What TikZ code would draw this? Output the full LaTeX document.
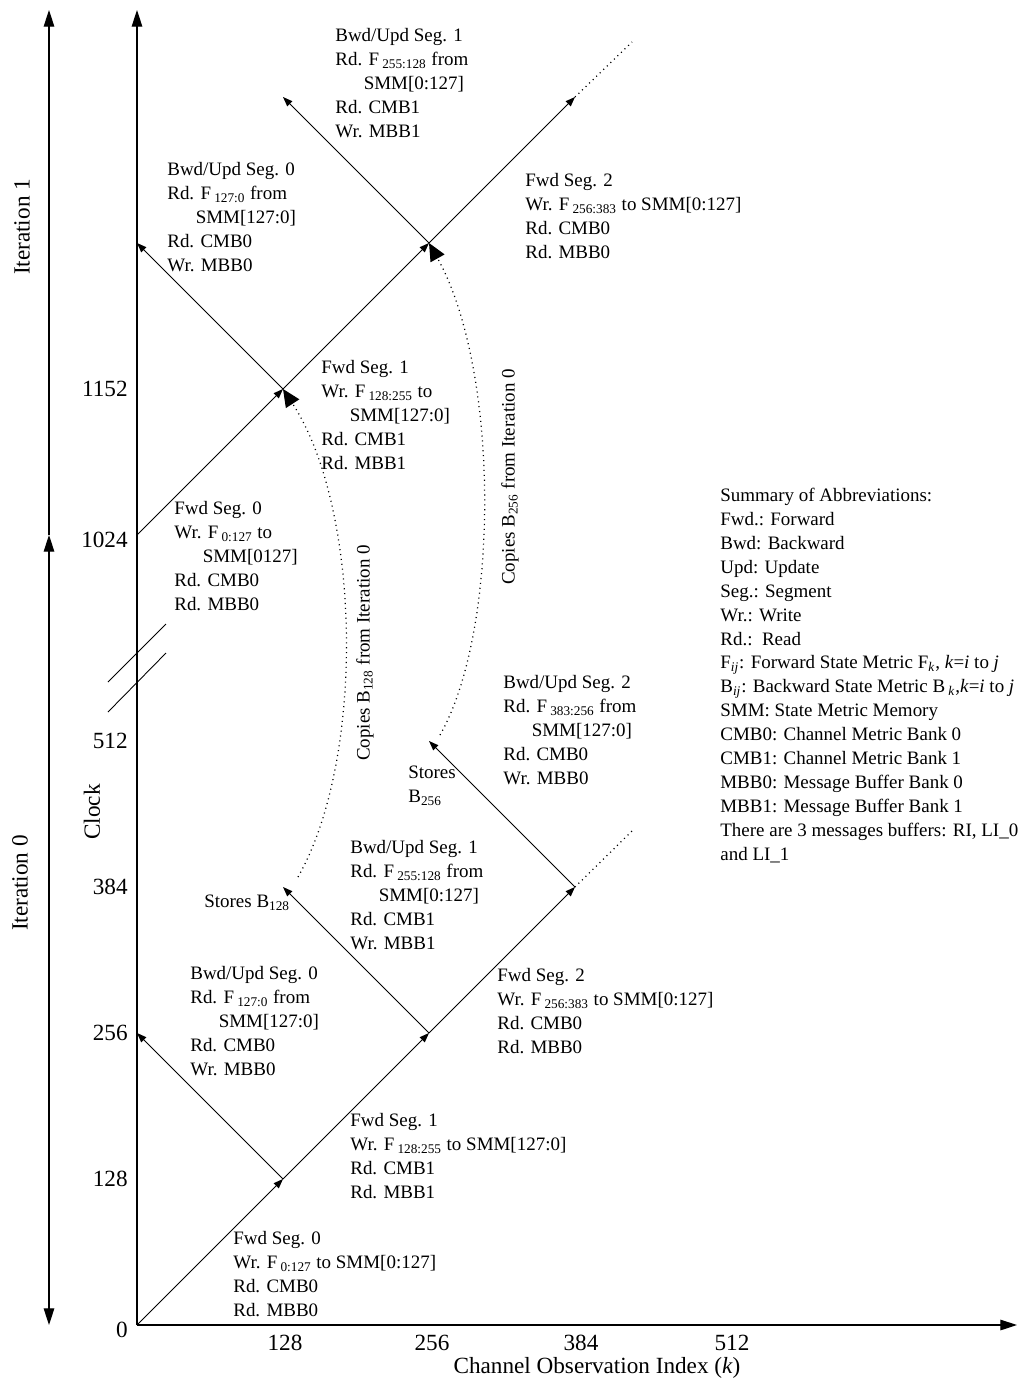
\documentclass[tikz,border=0pt]{standalone}
\usepackage{fontspec}
\setmainfont{Liberation Serif}
\usetikzlibrary{arrows.meta}
\newcommand{\fsub}[1]{\,\textsubscript{#1}}
\newcommand{\ind}{\hspace*{1.5em}}

\begin{document}
\begin{tikzpicture}[x=0.02cm, y=-0.02cm, >={Triangle[length=9.5pt,width=6pt]},
    font=\fontsize{10.8}{13.6}\selectfont,
    axisline/.style={line width=0.7pt},
    segline/.style={line width=0.5pt, -{Triangle[length=5.5pt,width=4pt]}},
    dotline/.style={line width=0.7pt, dash pattern=on 0.6pt off 2.2pt},
    copyline/.style={dotline, -{Triangle[length=10pt,width=9pt]}},
    txt/.style={anchor=north west, inner sep=0pt, align=left},
    lbl/.style={inner sep=0pt},
    axlbl/.style={inner sep=0pt, font=\fontsize{13.2}{15}\selectfont}]
    \useasboundingbox (0,0) rectangle (1022,1382);

    % 坐标点
    \coordinate (o) at (137,1325);
    \coordinate (ytop) at (137,10);
    \coordinate (xend) at (1017,1325);
    \coordinate (p1) at (283,1179);
    \coordinate (p2) at (429,1033);
    \coordinate (p3) at (575,887);
    \coordinate (p4) at (633,830);
    \coordinate (r1) at (137,1033);
    \coordinate (r2) at (283,887);
    \coordinate (r3) at (429,741);
    \coordinate (q0) at (137,535);
    \coordinate (q1) at (283,389);
    \coordinate (q2) at (429,243);
    \coordinate (q3) at (575,97);
    \coordinate (q4) at (632,42);
    \coordinate (s1) at (137,243);
    \coordinate (s2) at (283,97);
    \coordinate (c1) at (298,877);
    \coordinate (c2) at (440,735);
    \coordinate (itop) at (49,10);
    \coordinate (imid) at (49,535);
    \coordinate (ibot) at (49,1325);

    % 坐标轴
    \draw[axisline, ->] (o) -- (ytop);
    \draw[axisline, ->] (o) -- (xend);
    \draw[axisline, ->] (imid) -- (itop);
    \draw[axisline, <->] (ibot) -- (imid);
    \draw[line width=0.5pt] (108,682) -- (166,624);
    \draw[line width=0.5pt] (108,712) -- (166,653);

    % 刻度
    \node[axlbl, anchor=east] (y0) at (128,1330) {0};
    \node[axlbl, anchor=east] (y128) at (128,1179) {128};
    \node[axlbl, anchor=east] (y256) at (128,1033) {256};
    \node[axlbl, anchor=east] (y384) at (128,887) {384};
    \node[axlbl, anchor=east] (y512) at (128,741) {512};
    \node[axlbl, anchor=east] (y1024) at (128,540) {1024};
    \node[axlbl, anchor=east] (y1152) at (128,389) {1152};
    \node[axlbl] (x128) at (285,1343) {128};
    \node[axlbl] (x256) at (432,1343) {256};
    \node[axlbl] (x384) at (581,1343) {384};
    \node[axlbl] (x512) at (732,1343) {512};
    \node[axlbl] (xname) at (597,1368) {Channel\ Observation Index (\textit{k})};
    \node[axlbl, rotate=90] (clock) at (92,812) {Clock};
    \node[axlbl, rotate=90] (iter1) at (22,227) {Iteration 1};
    \node[axlbl, rotate=90] (iter0) at (20,883) {Iteration 0};

    % 第0次迭代
    \draw[segline] (o) -- (p1);
    \draw[segline] (p1) -- (p2);
    \draw[segline] (p2) -- (p3);
    \draw[dotline] (p3) -- (p4);
    \draw[segline] (p1) -- (r1);
    \draw[segline] (p2) -- (r2);
    \draw[segline] (p3) -- (r3);

    % 第1次迭代
    \draw[segline] (q0) -- (q1);
    \draw[segline] (q1) -- (q2);
    \draw[segline] (q2) -- (q3);
    \draw[dotline] (q3) -- (q4);
    \draw[segline] (q1) -- (s1);
    \draw[segline] (q2) -- (s2);

    % 复制
    \draw[copyline] (c1) .. controls (365,760) and (362,510) .. (q1);
    \draw[copyline] (c2) .. controls (500,630) and (500,370) .. (q2);
    \node[lbl, rotate=90] (cp128) at (365,653) {Copies B\textsubscript{128} from Iteration 0};
    \node[lbl, rotate=90] (cp256) at (510,477) {Copies B\textsubscript{256} from Iteration 0};

    % 说明文字
    \node[txt] (fa0) at (233,1231) {Fwd Seg. 0\\Wr. F\fsub{0:127} to\ SMM[0:127]\\Rd. CMB0\\Rd. MBB0};
    \node[txt] (fa1) at (350,1113) {Fwd Seg. 1\\Wr. F\fsub{128:255} to SMM[127:0]\\Rd. CMB1\\Rd. MBB1};
    \node[txt] (fa2) at (497,968) {Fwd Seg. 2\\Wr. F\fsub{256:383} to SMM[0:127]\\Rd. CMB0\\Rd. MBB0};
    \node[txt] (ba0) at (190,966) {Bwd/Upd Seg. 0\\Rd. F\fsub{127:0} from\\\ind SMM[127:0]\\Rd. CMB0\\Wr. MBB0};
    \node[txt] (ba1) at (350,840) {Bwd/Upd Seg. 1\\Rd. F\fsub{255:128} from\\\ind SMM[0:127]\\Rd. CMB1\\Wr. MBB1};
    \node[txt] (ba2) at (503,675) {Bwd/Upd Seg. 2\\Rd. F\fsub{383:256} from\\\ind SMM[127:0]\\Rd. CMB0\\Wr. MBB0};
    \node[txt] (st128) at (204,895) {Stores B\textsubscript{128}};
    \node[txt] (st256) at (408,766) {Stores\\B\textsubscript{256}};
    \node[txt] (fb0) at (174,501) {Fwd Seg. 0\\Wr. F\fsub{0:127} to\\\ind SMM[0127]\\Rd. CMB0\\Rd. MBB0};
    \node[txt] (fb1) at (321,360) {Fwd Seg. 1\\Wr. F\fsub{128:255} to\\\ind SMM[127:0]\\Rd. CMB1\\Rd. MBB1};
    \node[txt] (fb2) at (525,173) {Fwd Seg. 2\\Wr. F\fsub{256:383} to SMM[0:127]\\Rd. CMB0\\Rd. MBB0};
    \node[txt] (bb0) at (167,162) {Bwd/Upd Seg. 0\\Rd. F\fsub{127:0} from\\\ind SMM[127:0]\\Rd. CMB0\\Wr. MBB0};
    \node[txt] (bb1) at (335,28) {Bwd/Upd Seg. 1\\Rd. F\fsub{255:128} from\\\ind SMM[0:127]\\Rd. CMB1\\Wr. MBB1};

    % 缩写
    \node[txt] (abbr) at (720,488) {Summary of Abbreviations:\\Fwd.: Forward\\Bwd: Backward\\Upd: Update\\Seg.: Segment\\Wr.: Write\\Rd.:\ \ Read\\F\textsubscript{\textit{ij}}: Forward State Metric F\textsubscript{\textit{k}}, \textit{k}=\textit{i} to \textit{j}\\B\textsubscript{\textit{ij}}: Backward State Metric B\fsub{\textit{k}},\textit{k}=\textit{i} to \textit{j}\\SMM: State Metric Memory\\CMB0: Channel Metric Bank 0\\CMB1: Channel Metric Bank 1\\MBB0: Message Buffer Bank 0\\MBB1: Message Buffer Bank 1\\There are 3 messages buffers: RI, LI\_0\\and LI\_1};
\end{tikzpicture}
\end{document}
